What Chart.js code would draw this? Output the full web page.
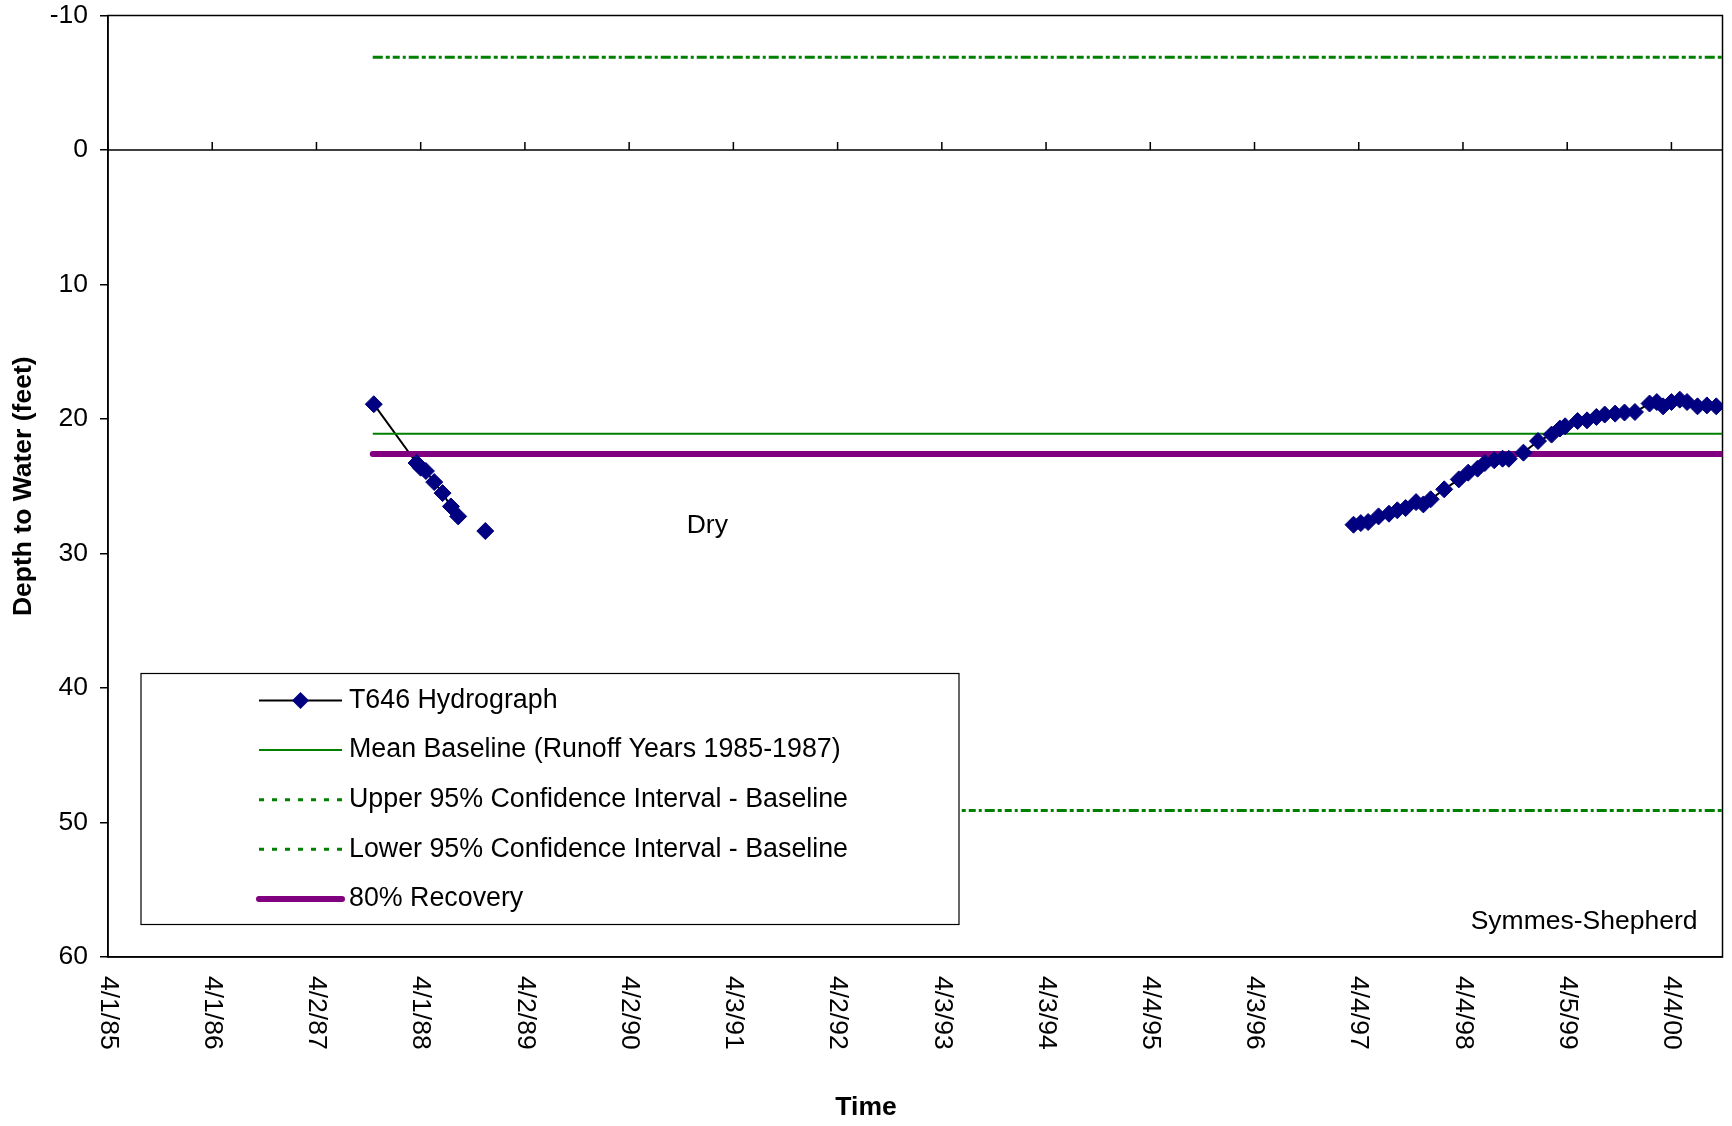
<!DOCTYPE html>
<html>
<head>
<meta charset="utf-8">
<title>T646 Hydrograph - Symmes-Shepherd</title>
<script src="https://cdn.jsdelivr.net/npm/chart.js@4.4.1/dist/chart.umd.min.js"></script>
<style>
  html, body { margin: 0; padding: 0; background: #fff; }
  #wrap { width: 1732px; height: 1126px; }
</style>
</head>
<body>
<div id="wrap"><canvas id="hydroChart" width="1732" height="1126"></canvas></div>
<script>
// x values are decimal years (4/1/85 = 1985.25)
var tickYears = [1985.25, 1986.25, 1987.25, 1988.25, 1989.25, 1990.25, 1991.25, 1992.25,
                 1993.25, 1994.25, 1995.25, 1996.25, 1997.25, 1998.25, 1999.25, 2000.25];
var tickLabels = ["4/1/85", "4/1/86", "4/2/87", "4/1/88", "4/2/89", "4/2/90", "4/3/91", "4/2/92",
                  "4/3/93", "4/3/94", "4/4/95", "4/3/96", "4/4/97", "4/4/98", "4/5/99", "4/4/00"];
var xStart = 1985.25;
var xEnd = 2000.74;

// T646 hydrograph, depth to water (feet); null = no reading (dry)
var hydroDates = [1987.80, 1988.21, 1988.25, 1988.30, 1988.38, 1988.46, 1988.54, 1988.61, 1988.74, 1988.87, 1993.00,
                  1997.20, 1997.27, 1997.34, 1997.44, 1997.54, 1997.62, 1997.70, 1997.80, 1997.87, 1997.94,
                  1998.07, 1998.21, 1998.30, 1998.39, 1998.46, 1998.55, 1998.63, 1998.69, 1998.83, 1998.97,
                  1999.10, 1999.18, 1999.23, 1999.35, 1999.44, 1999.53, 1999.61, 1999.71, 1999.80, 1999.90,
                  2000.04, 2000.11, 2000.17, 2000.25, 2000.33, 2000.40, 2000.50, 2000.59, 2000.68];
var hydroDepth = [18.9, 23.27, 23.62, 23.87, 24.69, 25.51, 26.50, 27.24, null, 28.33, null,
                  27.86, 27.74, 27.66, 27.24, 27.04, 26.79, 26.62, 26.18, 26.35, 25.97,
                  25.23, 24.49, 23.99, 23.69, 23.27, 23.07, 22.95, 22.96, 22.50, 21.64,
                  21.16, 20.71, 20.54, 20.15, 20.10, 19.85, 19.67, 19.60, 19.52, 19.48,
                  18.85, 18.74, 19.06, 18.74, 18.56, 18.74, 19.06, 18.99, 19.06];

// baseline statistics
var baselineStart = 1987.79;
var meanBaseline = 21.1;
var upperCI = -6.9;
var lowerCI = 49.1;
var recovery80 = 22.6;

var seriesNames = ["T646 Hydrograph", "Mean Baseline (Runoff Years 1985-1987)",
                   "Upper 95% Confidence Interval - Baseline", "Lower 95% Confidence Interval - Baseline",
                   "80% Recovery"];

var navy = '#000080';
var green = '#008000';
var purple = '#800080';
var ciDash = [10, 3, 4, 3, 7, 3, 3, 3];

function flat(y) {
    return [{x: baselineStart, y: y}, {x: xEnd, y: y}];
}
var hydroPoints = hydroDates.map(function(d, i) { return {x: d, y: hydroDepth[i]}; });

Chart.defaults.font.family = "'Liberation Sans', Arial, sans-serif";
Chart.defaults.color = '#000';

function diamond(ctx, x, y, r) {
    ctx.beginPath();
    ctx.moveTo(x, y - r);
    ctx.lineTo(x + r, y);
    ctx.lineTo(x, y + r);
    ctx.lineTo(x - r, y);
    ctx.closePath();
    ctx.fillStyle = navy;
    ctx.fill();
}

var extras = {
    id: 'extras',
    beforeDatasetsDraw: function(chart) {
        var ctx = chart.ctx, a = chart.chartArea;
        var xs = chart.scales.x, ys = chart.scales.y;
        var y0 = ys.getPixelForValue(0);
        ctx.save();
        ctx.strokeStyle = '#000';
        ctx.lineWidth = 1.5;
        // frame
        ctx.strokeRect(a.left, a.top, a.right - a.left, a.bottom - a.top);
        // horizontal axis crossing at 0 with tick marks
        ctx.beginPath();
        ctx.moveTo(a.left, y0);
        ctx.lineTo(a.right, y0);
        tickYears.forEach(function(v) {
            var px = xs.getPixelForValue(v);
            ctx.moveTo(px, y0 - 8);
            ctx.lineTo(px, y0);
        });
        ctx.stroke();
        ctx.restore();
    },
    afterDatasetsDraw: function(chart) {
        var ctx = chart.ctx, a = chart.chartArea;
        var bx = a.left + 33, by = a.top + 658, bw = 818, bh = 251;
        ctx.save();
        ctx.fillStyle = '#fff';
        ctx.fillRect(bx, by, bw, bh);
        ctx.strokeStyle = '#000';
        ctx.lineWidth = 1.2;
        ctx.strokeRect(bx, by, bw, bh);

        var sx1 = bx + 118, sx2 = bx + 201, tx = bx + 208;
        ctx.font = "26.8px 'Liberation Sans', Arial, sans-serif";
        ctx.textBaseline = 'middle';
        ctx.textAlign = 'left';
        seriesNames.forEach(function(name, i) {
            var ry = by + 27 + i * 49.6;
            ctx.save();
            ctx.beginPath();
            ctx.moveTo(sx1, ry);
            ctx.lineTo(sx2, ry);
            if (i === 0) { ctx.strokeStyle = '#000'; ctx.lineWidth = 2; }
            if (i === 1) { ctx.strokeStyle = green; ctx.lineWidth = 2; }
            if (i === 2 || i === 3) { ctx.strokeStyle = green; ctx.lineWidth = 3; ctx.setLineDash([5, 8]); }
            if (i === 4) { ctx.strokeStyle = purple; ctx.lineWidth = 6; ctx.lineCap = 'round'; }
            ctx.stroke();
            ctx.restore();
            if (i === 0) diamond(ctx, (sx1 + sx2) / 2, ry, 8.5);
            ctx.fillStyle = '#000';
            ctx.fillText(name, tx, ry);
        });
        ctx.restore();
    },
    afterDraw: function(chart) {
        var ctx = chart.ctx, a = chart.chartArea;
        var xs = chart.scales.x, ys = chart.scales.y;
        ctx.save();
        ctx.fillStyle = '#000';
        ctx.font = "26.5px 'Liberation Sans', Arial, sans-serif";
        // rotated date labels
        ctx.textAlign = 'left';
        ctx.textBaseline = 'middle';
        tickYears.forEach(function(v, i) {
            ctx.save();
            ctx.translate(xs.getPixelForValue(v), a.bottom + 19);
            ctx.rotate(Math.PI / 2);
            ctx.fillText(tickLabels[i], 0, 0);
            ctx.restore();
        });
        // notes
        ctx.textAlign = 'center';
        ctx.fillText('Dry', xs.getPixelForValue(1991.0), ys.getPixelForValue(27.9));
        ctx.textAlign = 'right';
        ctx.fillText('Symmes-Shepherd', a.right - 25, a.bottom - 35);
        // axis title
        ctx.textAlign = 'center';
        ctx.font = "bold 26.5px 'Liberation Sans', Arial, sans-serif";
        ctx.fillText('Time', chart.width / 2, 1108);
        ctx.restore();
    }
};

var canvasElement = document.getElementById("hydroChart");
var config = {
    type: 'scatter',
    data: {
        datasets: [{
            label: seriesNames[0],
            data: hydroPoints,
            showLine: false,
            pointStyle: 'rectRot',
            pointRadius: 8.5,
            pointBackgroundColor: navy,
            pointBorderColor: navy,
            pointBorderWidth: 1,
            order: 0
        }, {
            label: seriesNames[4],
            data: flat(recovery80),
            showLine: true,
            borderColor: purple,
            borderWidth: 6,
            borderCapStyle: 'round',
            pointRadius: 0,
            order: 1
        }, {
            label: seriesNames[1],
            data: flat(meanBaseline),
            showLine: true,
            borderColor: green,
            borderWidth: 2,
            pointRadius: 0,
            order: 2
        }, {
            label: seriesNames[2],
            data: flat(upperCI),
            showLine: true,
            borderColor: green,
            borderWidth: 3,
            borderDash: ciDash,
            pointRadius: 0,
            order: 3
        }, {
            label: seriesNames[3],
            data: flat(lowerCI),
            showLine: true,
            borderColor: green,
            borderWidth: 3,
            borderDash: ciDash,
            pointRadius: 0,
            order: 4
        }, {
            label: seriesNames[0] + ' line',
            data: hydroPoints,
            showLine: true,
            spanGaps: false,
            borderColor: '#000',
            borderWidth: 2,
            pointRadius: 0,
            order: 5
        }]
    },
    options: {
        responsive: false,
        animation: false,
        layout: { padding: { top: 0, right: 4, left: 0, bottom: 0 } },
        plugins: {
            legend: { display: false },
            tooltip: { enabled: false }
        },
        scales: {
            x: {
                type: 'linear',
                position: 'bottom',
                min: xStart,
                max: xEnd,
                afterBuildTicks: function(scale) {
                    scale.ticks = tickYears.map(function(v) { return {value: v}; });
                },
                ticks: { display: false },
                grid: { display: false },
                border: { display: true, color: '#000', width: 1.5 },
                afterFit: function(scale) { scale.height = 169; }
            },
            y: {
                type: 'linear',
                reverse: true,
                min: -10,
                max: 60,
                ticks: { stepSize: 10, padding: 12, font: { size: 26.5 }, color: '#000' },
                grid: { drawOnChartArea: false, drawTicks: true, tickLength: 8, color: '#000', lineWidth: 1.5 },
                border: { display: true, color: '#000', width: 1.5 },
                title: {
                    display: true,
                    text: 'Depth to Water (feet)',
                    font: { size: 26.5, weight: 'bold' },
                    color: '#000',
                    padding: { top: 8, bottom: 0 }
                },
                afterFit: function(scale) {
                    scale.width = 108;
                    scale.paddingTop = 15.5;
                    scale.paddingBottom = 15;
                }
            }
        }
    },
    plugins: [extras]
};

var hydroChart = new Chart(canvasElement, config);
</script>
</body>
</html>
